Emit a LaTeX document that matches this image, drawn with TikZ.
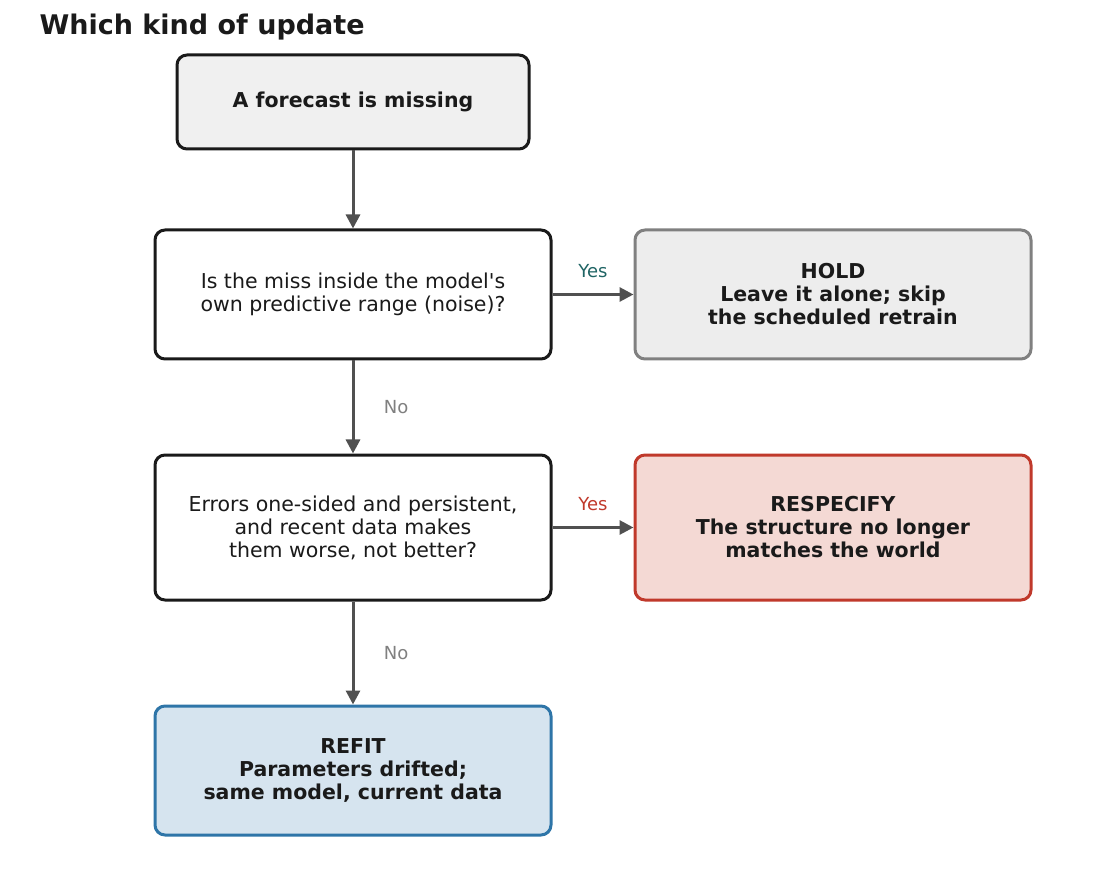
\documentclass[tikz,border=0pt]{standalone}
\usepackage{fontspec}
\setmainfont{DejaVu Sans}
\usetikzlibrary{arrows.meta}
\definecolor{ar}{HTML}{505050}
\definecolor{teal}{HTML}{1F6464}
\definecolor{redc}{HTML}{C0392B}
\definecolor{bluec}{HTML}{2E75A8}
\definecolor{ink}{HTML}{1A1A1A}
\begin{document}
\begin{tikzpicture}[x=1pt,y=-1pt,
 box/.style={draw=ink,line width=3pt,rounded corners=10pt,align=center,inner sep=0pt,text=ink,font=\fontsize{20.5}{23}\selectfont},
 bb/.style={font=\fontsize{20.5}{23}\selectfont\bfseries},
 arr/.style={draw=ar,line width=3pt,-{Triangle[length=14pt,width=14pt]}},
 lab/.style={font=\fontsize{18}{20}\selectfont}]
\useasboundingbox (0,0) rectangle (1120,877);
\node[anchor=west,font=\fontsize{27}{29}\selectfont\bfseries,text=ink] (title) at (36,27) {Which kind of update};
\node[box,fill=black!6,minimum width=352pt,minimum height=94pt,bb] (s) at (353,102) {A forecast is missing};
\node[box,fill=white,minimum width=396pt,minimum height=129pt] (q1) at (353,294.5) {Is the miss inside the model\textquotesingle s\\own predictive range (noise)?};
\node[box,draw=black!50,fill=black!7,minimum width=396pt,minimum height=129pt,bb] (h) at (833,294.5) {HOLD\\Leave it alone; skip\\the scheduled retrain};
\node[box,fill=white,minimum width=396pt,minimum height=145pt] (q2) at (353,527.5) {Errors one-sided and persistent,\\and recent data makes\\them worse, not better?};
\node[box,draw=redc,fill={rgb,255:red,244;green,217;blue,212},minimum width=396pt,minimum height=145pt,bb] (r) at (833,527.5) {RESPECIFY\\The structure no longer\\matches the world};
\node[box,draw=bluec,fill={rgb,255:red,214;green,228;blue,239},minimum width=396pt,minimum height=129pt,bb] (f) at (353,770.5) {REFIT\\Parameters drifted;\\same model, current data};
\draw[arr] (s) -- (q1);
\draw[arr] (q1) -- node[lab,pos=0.5,above=12pt,text=teal]{Yes} (h);
\draw[arr] (q1) -- node[lab,right=26pt,text=black!50]{No} (q2);
\draw[arr] (q2) -- node[lab,pos=0.5,above=12pt,text=redc]{Yes} (r);
\draw[arr] (q2) -- node[lab,right=26pt,text=black!50]{No} (f);
\end{tikzpicture}
\end{document}
